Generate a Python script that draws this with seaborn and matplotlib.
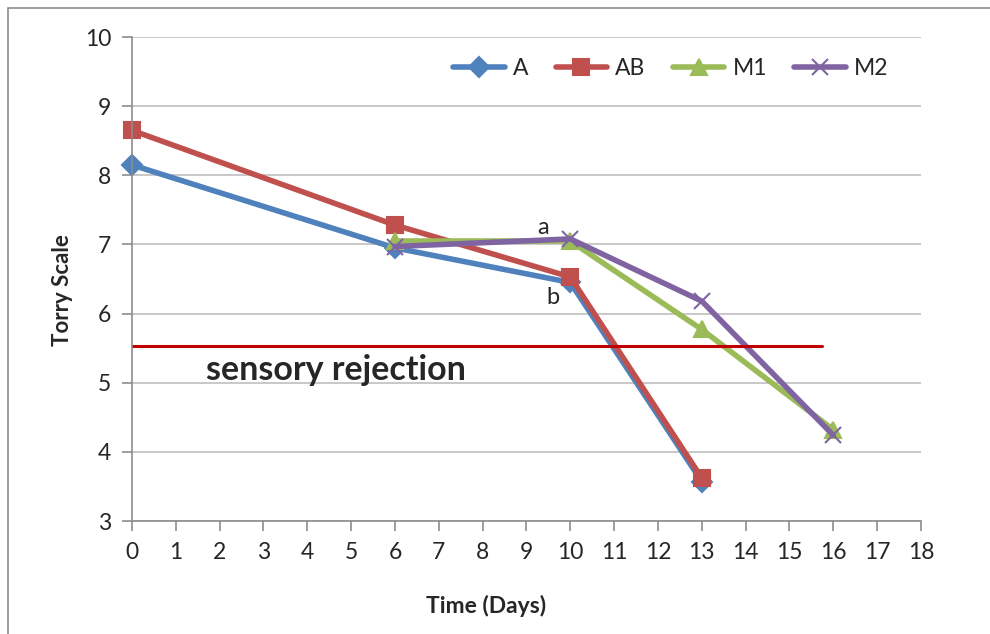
import numpy as np
import pandas as pd
import matplotlib
matplotlib.use('Agg')
import matplotlib.pyplot as plt
import seaborn as sns

# values
days_a = [0, 6, 10, 13]
torry_a = [8.15, 6.95, 6.45, 3.57]
days_ab = [0, 6, 10, 13]
torry_ab = [8.65, 7.28, 6.53, 3.62]
days_m1 = [6, 10, 13, 16]
torry_m1 = [7.05, 7.05, 5.77, 4.32]
days_m2 = [6, 10, 13, 16]
torry_m2 = [6.97, 7.08, 6.18, 4.24]
rejection_level = 5.53
rejection_days = [0, 15.75]

series = [
    ('A', days_a, torry_a, '#4F81BD', 'D', 10.5),
    ('AB', days_ab, torry_ab, '#C0504D', 's', 12),
    ('M1', days_m1, torry_m1, '#9BBB59', '^', 12),
    ('M2', days_m2, torry_m2, '#8064A2', 'x', 12),
]

sns.set_style('white')
plt.rcParams['font.family'] = ['Lato', 'DejaVu Sans']

fig = plt.figure(figsize=(9.9, 6.34), dpi=100)
ax = fig.add_axes([0.1333, 0.1782, 0.797, 0.7634])

# outer chart frame
fig.patches.append(plt.Rectangle((8 / 990, -0.05), 1.2, (634 - 8) / 634 + 0.05,
                                 transform=fig.transFigure, fill=False,
                                 edgecolor='#8c8c8c', linewidth=1.2))

for name, xs, ys, col, mk, ms in series:
    df = pd.DataFrame({'Time': xs, 'Torry': ys})
    sns.lineplot(data=df, x='Time', y='Torry', ax=ax, color=col, linewidth=4,
                 marker=mk, markersize=ms, markeredgecolor=col,
                 markeredgewidth=1.5, label=name, clip_on=False)

ax.plot(rejection_days, [rejection_level] * 2, color='#C00000', linewidth=2.2)
ax.text(1.7, 5.18, 'sensory rejection', fontsize=24.5, fontweight='bold', va='center')
ax.text(9.38, 7.24, 'a', fontsize=17, ha='center', va='center')
ax.text(9.6, 6.24, 'b', fontsize=17, ha='center', va='center')

ax.set_xlim(0, 18)
ax.set_ylim(3, 10)
ax.set_xticks(range(0, 19))
ax.set_yticks(range(3, 11))
ax.yaxis.grid(True, color='#bfbfbf', linewidth=1.2)
ax.xaxis.grid(False)
for s in ['top', 'right']:
    ax.spines[s].set_visible(False)
for s in ['left', 'bottom']:
    ax.spines[s].set_color('#8c8c8c')
    ax.spines[s].set_linewidth(1.2)
ax.tick_params(axis='both', direction='out', length=7, width=1.2, color='#8c8c8c',
               labelsize=16.5, pad=8, bottom=True, left=True)
ax.set_xlabel('Time (Days)', fontsize=16.5, fontweight='bold')
ax.set_ylabel('Torry Scale', fontsize=16, fontweight='bold')
ax.xaxis.set_label_coords(0.449, -0.153)
ax.yaxis.set_label_coords(-0.075, 0.477)

ax.legend(loc='upper right', bbox_to_anchor=(0.985, 1.0), ncol=4, frameon=False,
          fontsize=16.5, handlelength=2.25, columnspacing=1.2, handletextpad=0.35)

fig.savefig('out.png', dpi=100)
